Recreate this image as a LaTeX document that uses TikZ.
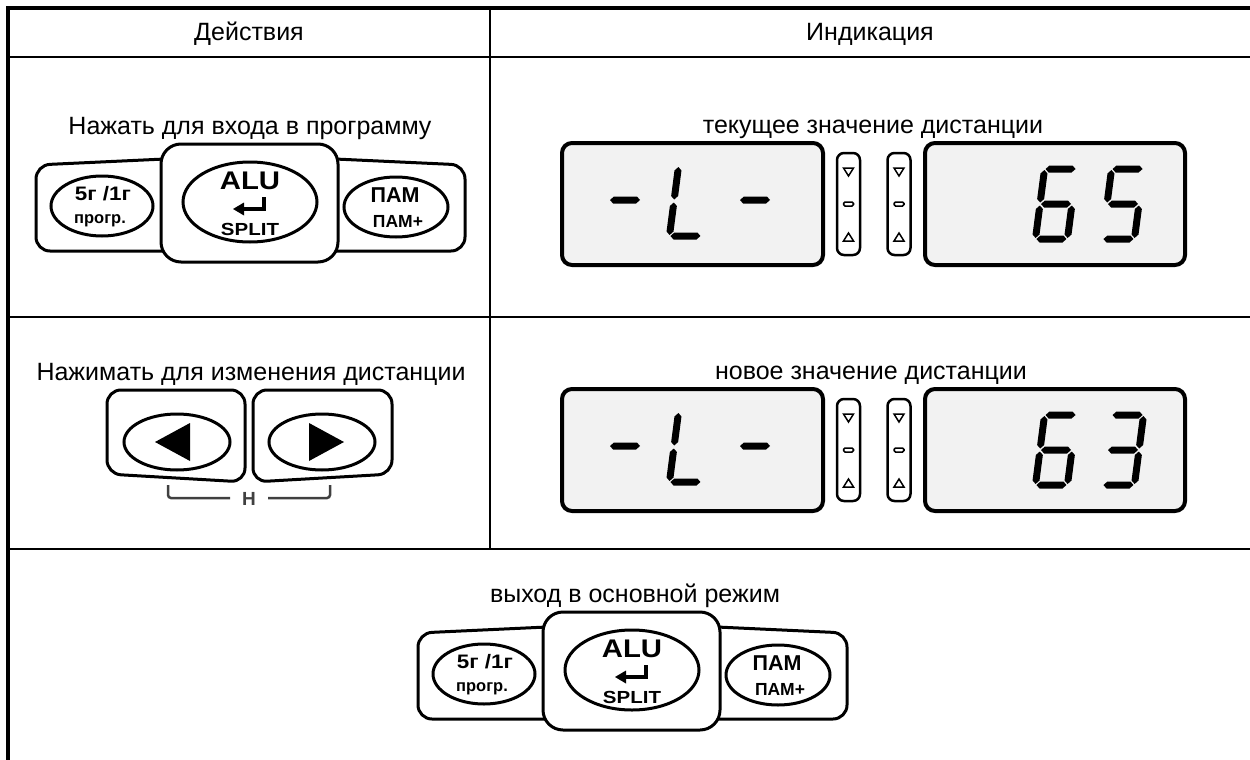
\documentclass[tikz,border=0pt]{standalone}
\usepackage{graphicx}
\usepackage{fontspec}
\setmainfont{Liberation Sans}
\newcommand{\hsegm}[3]{\fill (#1,#3) -- (#1+3.5,#3-3.5) -- (#2-3.5,#3-3.5) -- (#2,#3) -- (#2-3.5,#3+3.5) -- (#1+3.5,#3+3.5) -- cycle;}
\newcommand{\vsegm}[3]{\fill (#1,#2) -- (#1+3.5,#2+3.5) -- (#1+3.5,#3-3.5) -- (#1,#3) -- (#1-3.5,#3-3.5) -- (#1-3.5,#2+3.5) -- cycle;}
\newcommand{\sgA}{\hsegm{-15}{15}{-35}}
\newcommand{\sgB}{\vsegm{16}{-34}{-1.5}}
\newcommand{\sgC}{\vsegm{16}{1.5}{34}}
\newcommand{\sgD}{\hsegm{-15}{15}{35}}
\newcommand{\sgE}{\vsegm{-16}{1.5}{34}}
\newcommand{\sgF}{\vsegm{-16}{-34}{-1.5}}
\newcommand{\sgG}{\hsegm{-15}{15}{0}}
\newcommand{\segdigit}[3]{\begin{scope}[shift={(#1,#2)},xslant=0.13]#3\end{scope}}
\newcommand{\indbar}[2]{%
  \draw[indbox] (#1-11.5,#2-51) rectangle (#1+11.5,#2+51);
  \draw[indmark] (#1-5,#2-36) -- (#1+5,#2-36) -- (#1,#2-28) -- cycle;
  \draw[indmark, rounded corners=1.5pt] (#1-5,#2-2) rectangle (#1+5,#2+2);
  \draw[indmark] (#1-5,#2+37) -- (#1+5,#2+37) -- (#1,#2+29) -- cycle;}
\newcommand{\lcdpair}[2]{%
  \draw[lcd] (562,#1-61) rectangle (823,#1+61);
  \segdigit{625}{#1-4}{\sgG}
  \segdigit{690}{#1-3}{\sgF\sgE\sgD}
  \segdigit{755}{#1-4}{\sgG}
  \indbar{848.5}{#1}
  \indbar{899}{#1}
  \draw[lcd] (925,#1-61) rectangle (1185,#1+61);
  #2}
\newcommand{\alugroup}[3]{%
  \begin{scope}[shift={(#1,#2)}]
    \draw[keybox] (-85,-44) -- (-214,-38) -- (-214,48) -- (-85,48);
    \draw[keybox] (85,-44) -- (215,-38) -- (215,48) -- (85,48);
    \draw[keybox, rounded corners=20pt] (-89,-59) rectangle (88,59);
    \draw[keyoval] (-148,3) ellipse [x radius=51, y radius=30];
    \draw[keyoval] (0,-1) ellipse [x radius=67, y radius=40];
    \draw[keyoval] (146,4) ellipse [x radius=52, y radius=30];
    \node[font=\bfseries\fontsize{19.5}{23}\selectfont, inner sep=0pt] (#3a) at (-147,-9) {\scalebox{1.15}[1]{5г /1г}};
    \node[font=\bfseries\fontsize{16.5}{19}\selectfont, inner sep=0pt] (#3b) at (-150,18) {прогр.};
    \node[font=\bfseries\fontsize{25.5}{30}\selectfont, inner sep=0pt] (#3c) at (0,-22) {\scalebox{1.15}[1]{ALU}};
    \fill (12,-6) rectangle (16,8);
    \fill (-7,4) rectangle (16,8);
    \fill (-17,6) -- (-6,-0.5) -- (-6,12.5) -- cycle;
    \node[font=\bfseries\fontsize{17.5}{21}\selectfont, inner sep=0pt] (#3d) at (0,26) {\scalebox{1.17}[1]{SPLIT}};
    \node[font=\bfseries\fontsize{21.5}{25}\selectfont, inner sep=0pt] (#3e) at (145,-8) {ПАМ};
    \node[font=\bfseries\fontsize{17.5}{20}\selectfont, inner sep=0pt] (#3f) at (148,18) {ПАМ+};
  \end{scope}}
\begin{document}
\begin{tikzpicture}[x=1pt,y=-1pt,
  outerline/.style={line width=4pt},
  gridline/.style={line width=2.5pt},
  keybox/.style={draw, line width=3pt, fill=white, rounded corners=14pt},
  keyoval/.style={draw, line width=3pt, fill=white},
  caption/.style={font=\fontsize{25}{30}\selectfont, anchor=base, inner sep=0pt},
  lcd/.style={draw, line width=4pt, fill=black!5, rounded corners=10pt},
  indbox/.style={draw, line width=2.5pt, fill=white, rounded corners=7pt},
  indmark/.style={draw, line width=1.5pt},
  bracket/.style={draw=black!75, line width=2.5pt, rounded corners=3pt}]
\useasboundingbox (0,0) rectangle (1250,760);
% table
\draw[outerline] (8,760) -- (8,8.5) -- (1250,8.5);
\draw[gridline] (8,57) -- (1250,57);
\draw[gridline] (8,317) -- (1250,317);
\draw[gridline] (8,549) -- (1250,549);
\draw[gridline] (490,8.5) -- (490,549);
% headers
\node[caption] (h1) at (249,41) {Действия};
\node[caption] (h2) at (870,41) {Индикация};
% row 1
\alugroup{250}{203}{ka}
\node[caption] (t1) at (250,134) {Нажать для входа в программу};
\lcdpair{204}{\segdigit{1056}{204}{\sgA\sgF\sgG\sgE\sgC\sgD}\segdigit{1123}{204}{\sgA\sgF\sgG\sgC\sgD}}
\node[caption] (t2) at (873,133) {текущее значение дистанции};
% row 2
\draw[keybox] (107,390) -- (245,390) -- (245,482) -- (107,474) -- cycle;
\draw[keybox] (253,390) -- (392,390) -- (392,474) -- (253,482) -- cycle;
\draw[keyoval] (177,442) ellipse [x radius=53, y radius=28];
\draw[keyoval] (322,442) ellipse [x radius=53, y radius=28];
\fill (155,442) -- (190,423) -- (190,461) -- cycle;
\fill (344,442) -- (309,423) -- (309,461) -- cycle;
\draw[bracket] (168,485) -- (168,498) -- (230,498);
\draw[bracket] (268,498) -- (330,498) -- (330,485);
\node[font=\bfseries\fontsize{19}{22}\selectfont, text=black!75, inner sep=0pt] (hl) at (249,499) {H};
\node[caption] (t3) at (251,380) {Нажимать для изменения дистанции};
\lcdpair{450}{\segdigit{1056}{450}{\sgA\sgF\sgG\sgE\sgC\sgD}\segdigit{1123}{450}{\sgA\sgB\sgG\sgC\sgD}}
\node[caption] (t4) at (871,379) {новое значение дистанции};
% row 3
\alugroup{632}{671}{kb}
\node[caption] (t5) at (635,602) {выход в основной режим};
\end{tikzpicture}
\end{document}
